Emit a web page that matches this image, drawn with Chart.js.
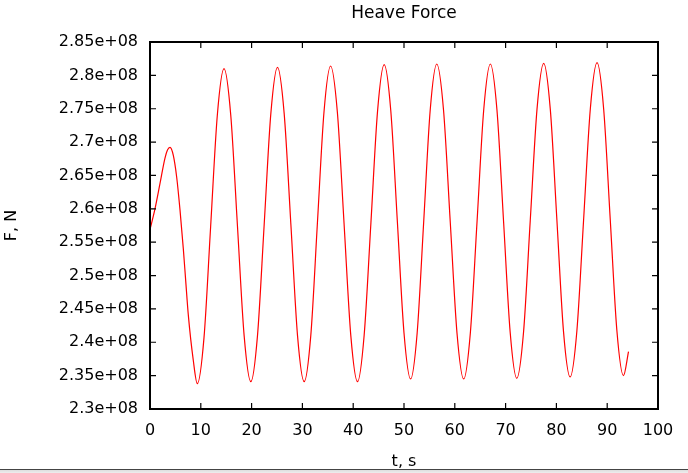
<!DOCTYPE html>
<html>
<head>
<meta charset="utf-8">
<title>Heave Force</title>
<script src="https://cdn.jsdelivr.net/npm/chart.js@4.4.0/dist/chart.umd.min.js"></script>
<style>
    html, body { margin: 0; padding: 0; background: #fff; }
    #wrap { position: relative; width: 688px; height: 473px; }
    #wrap::after {
        content: '';
        position: absolute;
        left: 0; right: 0; top: 469px; height: 4px;
        background: linear-gradient(#444 0, #444 1px, #ddd 1px, #eee 100%);
    }
</style>
</head>
<body>
<div id="wrap"><canvas id="heaveChart" width="688" height="473"></canvas></div>
<script>
// Heave force time history, F in units of 1e8 N
const time = [
    0, 0.98, 1.97, 2.95, 3.44, 3.94, 4.59, 5.26, 5.91, 6.56, 7.03, 7.54, 8.52, 9.31,
    10.63, 11.94, 13.26, 14.57, 15.89, 17.21, 18.53, 19.85,
    21.16, 22.48, 23.79, 25.1, 26.41, 27.73, 29.04, 30.35,
    31.65, 32.95, 34.25, 35.55, 36.88, 38.2, 39.53, 40.85,
    42.16, 43.48, 44.79, 46.1, 47.4, 48.7, 50.0, 51.3,
    52.59, 53.88, 55.16, 56.45, 57.78, 59.1, 60.43, 61.75,
    63.06, 64.38, 65.69, 67.0, 68.3, 69.6, 70.9, 72.2,
    73.53, 74.85, 76.18, 77.5, 78.8, 80.1, 81.4, 82.7,
    84.03, 85.35, 86.68, 88.0, 89.3, 90.6, 91.9, 93.2,
    94.2
];
const force = [
    2.569, 2.600, 2.638, 2.676, 2.688, 2.692, 2.680, 2.647, 2.598, 2.540, 2.492, 2.441, 2.373, 2.338,
    2.407, 2.574, 2.741, 2.810, 2.741, 2.575, 2.410, 2.341,
    2.410, 2.577, 2.743, 2.812, 2.743, 2.577, 2.410, 2.341,
    2.410, 2.578, 2.745, 2.814, 2.745, 2.578, 2.410, 2.341,
    2.411, 2.578, 2.746, 2.816, 2.747, 2.580, 2.414, 2.345,
    2.414, 2.581, 2.748, 2.817, 2.748, 2.581, 2.414, 2.345,
    2.414, 2.581, 2.748, 2.817, 2.748, 2.581, 2.415, 2.346,
    2.415, 2.582, 2.749, 2.818, 2.749, 2.583, 2.416, 2.348,
    2.417, 2.583, 2.750, 2.819, 2.750, 2.584, 2.418, 2.350,
    2.386
];

const X_RANGE = [0, 100, 10];
const Y_RANGE = [2.3e8, 2.85e8, 0.05e8];

const FONT = { family: '"DejaVu Sans", sans-serif', size: 16 };

// Box round the plot with inward tick marks on all four sides
const frame = {
    id: 'frame',
    afterDraw(chart) {
        const { ctx, chartArea: a, scales: { x, y } } = chart;
        const len = 6;
        ctx.save();
        ctx.strokeStyle = '#000';
        ctx.lineWidth = 1.2;
        ctx.beginPath();
        x.ticks.forEach(t => {
            const px = x.getPixelForValue(t.value);
            ctx.moveTo(px, a.bottom); ctx.lineTo(px, a.bottom - len);
            ctx.moveTo(px, a.top); ctx.lineTo(px, a.top + len);
        });
        y.ticks.forEach(t => {
            const py = y.getPixelForValue(t.value);
            ctx.moveTo(a.left, py); ctx.lineTo(a.left + len, py);
            ctx.moveTo(a.right, py); ctx.lineTo(a.right - len, py);
        });
        ctx.stroke();
        ctx.lineWidth = 2;
        ctx.strokeRect(a.left, a.top, a.right - a.left, a.bottom - a.top);
        ctx.restore();
    }
};

const ctx = document.getElementById('heaveChart').getContext('2d');
new Chart(ctx, {
    type: 'line',
    data: {
        datasets: [{
            data: time.map((t, i) => ({ x: t, y: force[i] * 1e8 })),
            borderColor: '#ff0000',
            borderWidth: 1.2,
            pointRadius: 0,
            cubicInterpolationMode: 'monotone',
            fill: false
        }]
    },
    options: {
        responsive: false,
        animation: false,
        layout: { padding: { left: 0, right: 30, top: 0, bottom: 0 } },
        scales: {
            x: {
                type: 'linear',
                min: X_RANGE[0],
                max: X_RANGE[1],
                grid: { display: false, drawTicks: false },
                border: { display: false },
                ticks: { stepSize: X_RANGE[2], padding: 12, color: '#000', font: FONT, maxRotation: 0 },
                title: { display: true, text: 't, s', color: '#000', font: FONT, padding: { top: 0, bottom: 2 } },
                afterFit: s => { s.height = 64; }
            },
            y: {
                min: Y_RANGE[0],
                max: Y_RANGE[1],
                grid: { display: false, drawTicks: false },
                border: { display: false },
                ticks: {
                    stepSize: Y_RANGE[2],
                    padding: 12,
                    color: '#000',
                    font: FONT,
                    callback: v => (+(v / 1e8).toFixed(2)) + 'e+08'
                },
                title: { display: true, text: 'F, N', color: '#000', font: FONT, padding: { top: 2, bottom: 0 } },
                afterFit: s => { s.width = 150; }
            }
        },
        plugins: {
            legend: { display: false },
            tooltip: { enabled: false },
            title: {
                display: true,
                text: 'Heave Force',
                color: '#000',
                fullSize: false,
                font: { ...FONT, size: 17, weight: 'normal' },
                padding: { top: 3.8, bottom: 17.8 }
            }
        }
    },
    plugins: [frame]
});
</script>
</body>
</html>
